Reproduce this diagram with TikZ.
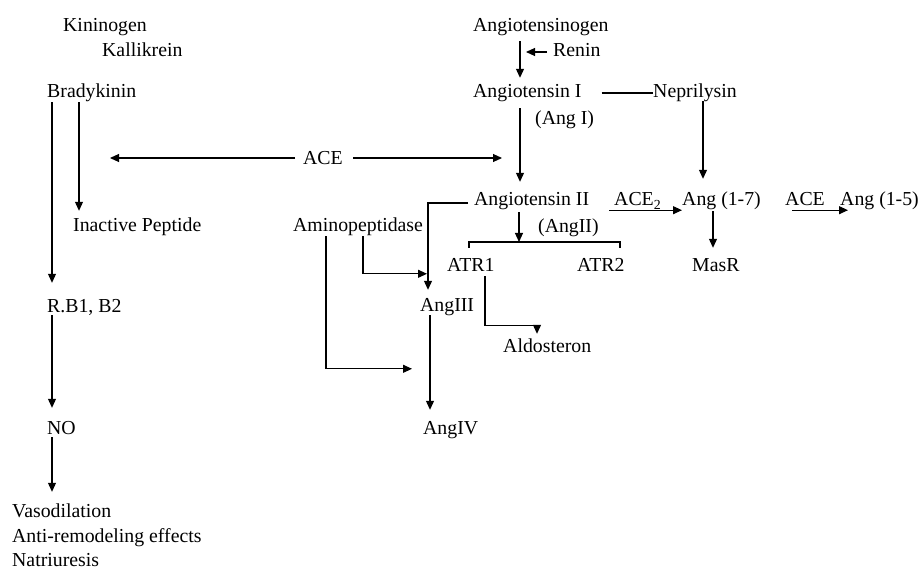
\documentclass[tikz,border=0pt]{standalone}
\usepackage{fontspec}
\setmainfont{Liberation Serif}
\usepackage{tikz}
\usetikzlibrary{arrows.meta,calc}
\tikzset{
Fleche/.style={
 draw=black, 
 line width=1.1pt, 
 -{Triangle[length=9pt,width=8pt]}
 },
Trait/.style={
 draw=black, 
 line width=1.1pt
 },
Mot/.style={
 inner sep=0pt, 
 anchor=base west, 
 text height=14pt, 
 text depth=4pt
 }
}

\begin{document}
\begin{tikzpicture}[x=1pt,y=-1pt,font=\fontsize{19.8pt}{24pt}\selectfont]
\useasboundingbox (0,0) rectangle (919,569);
% voie des kinines
\node[Mot] (kinin) at (63,32) {Kininogen};
\node[Mot] (kallik) at (102,57) {Kallikrein};
\node[Mot] (brady) at (47,98) {Bradykinin};
\node[Mot] (inact) at (73,232) {Inactive Peptide};
\node[Mot] (rb) at (47,313) {R.B1, B2};
\node[Mot] (no) at (47,435) {NO};
\node[Mot] (vaso) at (12,517) {Vasodilation};
\node[Mot] (anti) at (12,542) {Anti-remodeling effects};
\node[Mot] (natri) at (12,566) {Natriuresis};
% systeme renine-angiotensine
\node[Mot] (ace) at (303,165) {ACE};
\node[Mot] (agen) at (473,32) {Angiotensinogen};
\node[Mot] (renin) at (553,57) {Renin};
\node[Mot] (ang1) at (473,98) {Angiotensin I};
\node[Mot] (ang1b) at (535,125) {(Ang I)};
\node[Mot] (nep) at (653,98) {Neprilysin};
\node[Mot] (ang2) at (474,206) {Angiotensin II};
\node[Mot] (ang2b) at (538,233) {(AngII)};
\node[Mot] (amino) at (293,232) {Aminopeptidase};
\node[Mot] (ace2) at (614,206) {ACE\textsubscript{2}};
\node[Mot] (a17) at (682,206) {Ang (1-7)};
\node[Mot] (aceb) at (785,206) {ACE};
\node[Mot] (a15) at (840,206) {Ang (1-5)};
\node[Mot] (masr) at (692,272) {MasR};
\node[Mot] (atr1) at (447,272) {ATR1};
\node[Mot] (atr2) at (577,272) {ATR2};
\node[Mot] (ang3) at (420,312) {AngIII};
\node[Mot] (aldo) at (503,353) {Aldosteron};
\node[Mot] (ang4) at (423,435) {AngIV};
\coordinate (aceL) at (110,158);
\coordinate (aceR) at (502,158);
\coordinate (brL) at (469,242);
\coordinate (brR) at (620,242);
% fleches de gauche
\draw[Fleche,shorten >=16pt] ([xshift=5pt]brady.south west) -- ([xshift=5pt]rb.north west);
\draw[Fleche,shorten >=7pt] ([xshift=32pt]brady.south west) -- ([xshift=32pt]brady.south west |- inact.north);
\draw[Fleche,shorten <=-2pt,shorten >=13pt] ([xshift=5pt]rb.south west) -- ([xshift=5pt]no.north west);
\draw[Fleche,shorten <=-2pt,shorten >=11pt] ([xshift=5pt]no.south west) -- ([xshift=5pt]no.south west |- vaso.north);
% ACE
\draw[Fleche,shorten <=8pt] (aceL -| ace.west) -- (aceL);
\draw[Fleche,shorten <=10pt] (aceR -| ace.east) -- (aceR);
% angiotensine
\draw[Fleche,shorten <=5pt,shorten >=6pt] ([xshift=47pt]agen.south west) -- ([xshift=47pt]agen.south west |- ang1.north);
\draw[Fleche,shorten <=6pt] (renin.west) -- ([xshift=-27pt]renin.west);
\draw[Trait,shorten <=20pt] (ang1.east) -- (ang1.east -| nep.west);
\draw[Fleche,shorten <=-1pt,shorten >=13pt] ([xshift=50pt]nep.south west) -- ([xshift=50pt]nep.south west |- a17.north);
\draw[Fleche,shorten <=6pt,shorten >=10pt] ([xshift=47pt]ang1.south west) -- ([xshift=47pt]ang1.south west |- ang2.north);
\draw[Fleche,shorten <=20pt] (ang2.south east) -- (ang2.south east -| a17.west);
\draw[Fleche,shorten <=31pt,shorten >=-8pt] (a17.south east) -- (a17.south east -| a15.west);
\draw[Fleche,shorten <=1pt,shorten >=10pt] ([xshift=31pt]a17.south west) -- ([xshift=31pt]a17.south west |- masr.north);
% recepteurs
\draw[Trait] ([yshift=-6pt]brL) -- (brL) -- (brR) -- ([yshift=-6pt]brR);
\draw[Fleche,shorten <=2pt] ([xshift=45pt]ang2.south west) -- ([xshift=45pt]ang2.south west |- brL);
\draw[Fleche] ([xshift=38pt]atr1.south west) |- ([xshift=34pt,yshift=13pt]aldo.north west) -- ([xshift=34pt,yshift=5pt]aldo.north west);
% aminopeptidase
\draw[Fleche,shorten >=8pt] ([xshift=-6pt,yshift=-2pt]ang2.west) -| ([xshift=8pt]ang3.north west);
\draw[Fleche] ([xshift=70pt]amino.south west) |- ([xshift=7pt,yshift=24pt]ang3.north west);
\draw[Fleche] ([xshift=33pt]amino.south west) |- ([xshift=-11pt,yshift=52pt]ang4.north west);
\draw[Fleche,shorten <=-1pt,shorten >=11pt] ([xshift=10pt]ang3.south west) -- ([xshift=10pt]ang3.south west |- ang4.north);
\end{tikzpicture}
\end{document}
